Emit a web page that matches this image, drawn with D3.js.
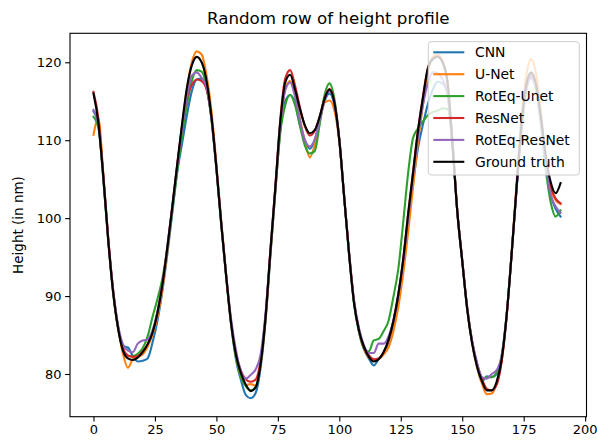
<!DOCTYPE html>
<html>
<head>
<meta charset="utf-8">
<script src="https://cdn.jsdelivr.net/npm/d3@7"></script>
<style>
  body { margin: 0; background: #fff; }
  svg { font-family: "DejaVu Sans", sans-serif; }
</style>
</head>
<body>
<svg id="chart" width="597" height="441"></svg>
<script>
// x positions (pixel column index along the row)
let xs = d3.range(0, 192, 2);

let xTicks = [0, 25, 50, 75, 100, 125, 150, 175, 200];
let yTicks = [80, 90, 100, 110, 120];

let seriesNames = ["CNN", "U-Net", "RotEq-Unet", "ResNet", "RotEq-ResNet", "Ground truth"];
let seriesColors = ["#1f77b4", "#ff7f0e", "#2ca02c", "#d62728", "#9467bd", "#000000"];

let cnn = [113.7,112.0,105.3,97.2,90.6,86.0,83.6,83.4,82.3,81.6,
  81.7,82.0,84.0,86.8,90.6,95.3,100.5,105.8,109.5,113.2,
  116.3,117.8,117.9,116.7,112.8,106.5,99.2,92.5,86.3,81.8,
  79.2,77.3,76.9,77.6,80.8,86.8,95.3,103.5,111.3,115.0,
  115.8,114.8,112.0,110.0,108.9,110.0,112.5,115.0,116.0,114.5,
  110.0,102.6,95.3,89.0,85.4,83.2,82.0,81.1,81.9,82.7,
  84.0,86.3,89.7,94.0,99.5,104.5,109.0,112.0,114.6,116.5,
  117.5,117.3,115.8,109.5,100.8,94.5,88.3,84.0,81.0,79.0,
  79.7,79.6,80.0,82.0,87.2,95.0,103.3,111.0,116.5,118.2,
  116.8,112.5,107.0,103.0,101.2,100.2];

let unet = [110.7,112.8,105.6,97.5,90.8,86.0,82.6,80.8,81.9,82.2,
  82.5,83.5,85.0,87.3,90.8,95.6,100.9,106.4,111.8,116.6,
  120.0,121.4,121.0,118.3,113.7,107.0,99.6,92.7,86.6,82.2,
  79.6,78.6,78.7,78.5,81.2,87.0,95.5,103.6,111.5,116.6,
  117.6,115.8,112.7,109.8,107.8,109.4,112.4,114.8,115.1,113.8,
  109.8,102.6,95.5,89.3,85.6,83.3,82.1,81.7,81.9,82.5,
  83.4,85.5,88.6,92.9,98.2,104.0,109.8,114.5,118.6,120.7,
  121.0,120.2,117.6,110.0,101.0,94.6,88.4,84.0,80.9,78.8,
  77.4,77.5,78.8,81.6,87.2,95.2,104.0,112.5,118.2,120.4,
  118.6,113.6,107.8,104.0,102.3,101.8];

let roteqUnet = [113.0,111.6,105.0,97.0,90.3,85.8,83.2,82.3,82.3,82.6,
  83.3,84.8,87.3,89.6,92.2,96.0,100.8,105.8,110.5,114.5,
  117.6,119.0,118.8,116.8,112.6,106.2,99.0,92.3,86.3,82.1,
  79.6,78.4,77.9,78.4,81.4,87.2,95.6,103.6,111.0,114.5,
  115.8,114.5,111.8,109.3,108.3,108.6,112.0,115.8,117.3,115.3,
  110.2,102.6,95.2,89.0,85.4,83.3,82.9,84.3,84.5,85.5,
  86.8,89.9,93.5,99.5,105.8,110.3,111.5,112.4,113.2,113.6,
  113.8,114.1,114.0,109.8,100.8,94.5,88.5,84.2,81.3,79.3,
  79.6,79.6,80.2,82.3,87.5,95.0,103.3,111.0,116.2,118.0,
  116.5,112.0,106.2,102.0,100.2,101.0];

let resnet = [116.2,112.8,105.6,97.4,90.6,86.0,83.3,82.4,82.2,82.3,
  82.9,83.8,85.3,87.9,91.5,96.2,101.4,106.7,111.6,115.4,
  117.1,117.8,117.6,116.5,112.9,106.5,99.2,92.5,86.6,82.6,
  80.4,79.3,79.0,79.3,81.8,87.5,96.0,104.2,112.7,117.9,
  119.0,117.0,114.2,111.8,110.6,111.2,113.0,115.4,116.6,114.9,
  110.1,102.7,95.4,89.3,85.6,83.4,82.4,81.9,82.0,82.8,
  84.3,86.8,90.2,94.8,100.6,106.0,111.3,115.6,119.2,120.5,
  120.8,120.0,117.4,109.9,100.9,94.6,88.6,84.2,81.3,79.4,
  78.1,77.9,78.6,81.5,87.2,95.0,103.5,111.6,116.8,118.5,
  117.0,112.7,107.3,104.0,102.5,101.9];

let roteqResnet = [113.9,111.9,105.2,97.3,90.8,86.3,83.8,83.0,82.8,83.9,
  84.3,84.4,85.6,88.0,91.5,96.2,101.3,106.6,111.5,115.6,
  118.3,118.7,118.0,116.8,112.8,106.4,99.3,92.7,87.0,83.0,
  80.3,79.4,79.9,80.6,82.5,87.8,96.0,104.0,112.0,116.4,
  117.4,115.6,112.5,110.0,109.2,110.1,112.5,115.1,116.3,114.7,
  110.0,102.7,95.5,89.4,85.9,83.7,82.7,82.7,83.9,83.9,
  84.8,86.9,90.2,94.5,100.0,105.3,110.5,114.5,117.3,118.7,
  118.6,117.8,116.0,109.6,100.8,94.6,88.6,84.3,81.5,79.6,
  79.4,80.0,80.5,82.3,87.4,95.0,103.4,111.3,116.5,118.0,
  116.6,112.4,106.9,103.0,101.5,100.7];

let groundTruth = [116.0,112.2,105.3,97.2,90.5,85.9,83.0,82.0,81.8,82.1,
  82.8,83.8,85.3,87.8,91.4,96.1,101.3,106.7,112.0,116.7,
  119.6,120.7,120.0,117.6,113.0,106.5,99.2,92.5,86.5,82.4,
  80.1,78.6,77.8,78.3,81.3,87.3,95.9,104.0,112.4,117.4,
  118.4,116.5,114.0,111.9,110.9,111.3,113.0,115.3,116.5,114.8,
  110.0,102.6,95.3,89.1,85.6,83.5,82.2,81.6,81.9,82.8,
  84.4,86.8,90.2,94.7,100.5,105.8,111.2,115.4,119.2,120.4,
  120.7,120.0,117.5,109.6,100.8,94.5,88.4,84.0,81.0,79.1,
  77.9,77.9,79.0,81.8,87.3,95.0,103.5,111.7,117.0,118.7,
  117.2,113.0,108.0,104.6,103.2,104.5];

let allSeries = [cnn, unet, roteqUnet, resnet, roteqResnet, groundTruth];

let margin = {top: 33.3, right: 10.5, bottom: 24.3, left: 70};
let W = 597, H = 441;
let width = W - margin.left - margin.right, height = H - margin.top - margin.bottom;

let svg = d3.select("#chart");
let g = svg.append("g").attr("transform", "translate(" + margin.left + "," + margin.top + ")");

let xScale = d3.scaleLinear().domain([-9.55, 200.55]).range([0, width]);
let yScale = d3.scaleLinear().domain([74.52, 123.72]).range([height, 0]);

// axes
let xAxis = g.append("g")
  .attr("transform", "translate(0," + height + ")")
  .call(d3.axisBottom(xScale).tickValues(xTicks).tickSize(4.9).tickPadding(3.5).tickSizeOuter(0));
let yAxis = g.append("g")
  .call(d3.axisLeft(yScale).tickValues(yTicks).tickSize(4.9).tickPadding(3.5).tickSizeOuter(0));

[xAxis, yAxis].forEach(function (a) {
  a.select(".domain").remove();
  a.selectAll("line").attr("stroke", "#000").attr("stroke-width", 1.1);
  a.selectAll("text").attr("font-size", "13px").attr("fill", "#000")
    .attr("font-family", "DejaVu Sans, sans-serif");
});
// keep the last x label inside the picture
xAxis.selectAll(".tick").filter(function (d) { return d === 200; })
  .select("text").attr("dx", "-0.6");

// lines
let line = d3.line()
  .x(function (d, i) { return xScale(xs[i]); })
  .y(function (d) { return yScale(d); })
  .curve(d3.curveMonotoneX);

allSeries.forEach(function (s, k) {
  g.append("path")
    .datum(s)
    .attr("fill", "none")
    .attr("stroke", seriesColors[k])
    .attr("stroke-width", 2.1)
    .attr("stroke-linejoin", "round")
    .attr("stroke-linecap", "square")
    .attr("d", line);
});

// frame
g.append("rect")
  .attr("x", 0).attr("y", 0).attr("width", width).attr("height", height)
  .attr("fill", "none").attr("stroke", "#000").attr("stroke-width", 1.1);

// title and label
svg.append("text")
  .attr("x", margin.left + width / 2).attr("y", 23.5)
  .attr("text-anchor", "middle").attr("font-size", "16.7px")
  .text("Random row of height profile");

svg.append("text")
  .attr("transform", "translate(23," + (margin.top + height / 2) + ") rotate(-90)")
  .attr("text-anchor", "middle").attr("font-size", "13.5px")
  .text("Height (in nm)");

// legend
let leg = svg.append("g").attr("transform", "translate(428.3,41.7)");
leg.append("rect")
  .attr("width", 151).attr("height", 133.3).attr("rx", 3)
  .attr("fill", "#fff").attr("fill-opacity", 0.8)
  .attr("stroke", "#cccccc").attr("stroke-width", 1);

seriesNames.forEach(function (name, k) {
  let yy = 10.6 + k * 21.9;
  leg.append("line")
    .attr("x1", 5).attr("x2", 36).attr("y1", yy).attr("y2", yy)
    .attr("stroke", seriesColors[k]).attr("stroke-width", 2.1);
  leg.append("text")
    .attr("x", 46.7).attr("y", yy + 5)
    .attr("font-size", "13.9px").attr("fill", "#000")
    .text(name);
});
</script>
</body>
</html>
